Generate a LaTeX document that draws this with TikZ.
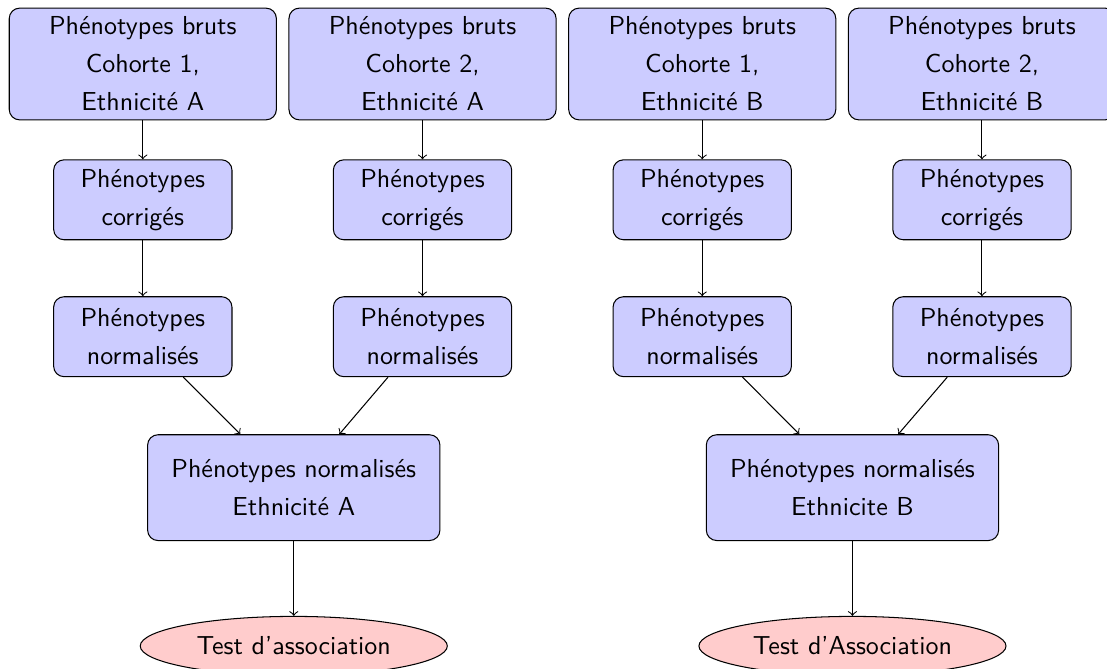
\documentclass[tikz,border=0pt]{standalone}
\usetikzlibrary{shapes.geometric}

\begin{document}
\begin{tikzpicture}[
    % Define styles
    box/.style={rectangle, draw=black, fill=blue!20, rounded corners=4pt, align=center, font={\sffamily\fontsize{10}{14.6}\selectfont}},
    raw/.style={box, minimum width=3.61cm, minimum height=1.51cm},
    stage/.style={box, minimum width=2.41cm, minimum height=1.08cm},
    merged/.style={box, minimum width=3.95cm, minimum height=1.43cm},
    assoc/.style={ellipse, draw=black, fill=red!20, minimum width=4.15cm, minimum height=0.8cm, font=\sffamily},
    arrow/.style={->},
    ]

    \useasboundingbox (0,0) rectangle (14.96,-9.04);

    % Raw phenotypes
    \node[raw] (brutA1) at (1.93, -0.865) {Phénotypes bruts\\Cohorte 1,\\Ethnicité A};
    \node[raw] (brutA2) at (5.71, -0.865) {Phénotypes bruts\\Cohorte 2,\\Ethnicité A};
    \node[raw] (brutB1) at (9.49, -0.865) {Phénotypes bruts\\Cohorte 1,\\Ethnicité B};
    \node[raw] (brutB2) at (13.27, -0.865) {Phénotypes bruts\\Cohorte 2,\\Ethnicité B};

    % Corrected phenotypes
    \node[stage] (corrA1) at (1.93, -2.70) {Phénotypes\\corrigés};
    \node[stage] (corrA2) at (5.71, -2.70) {Phénotypes\\corrigés};
    \node[stage] (corrB1) at (9.49, -2.70) {Phénotypes\\corrigés};
    \node[stage] (corrB2) at (13.27, -2.70) {Phénotypes\\corrigés};

    % Normalised phenotypes
    \node[stage] (normA1) at (1.93, -4.55) {Phénotypes\\normalisés};
    \node[stage] (normA2) at (5.71, -4.55) {Phénotypes\\normalisés};
    \node[stage] (normB1) at (9.49, -4.55) {Phénotypes\\normalisés};
    \node[stage] (normB2) at (13.27, -4.55) {Phénotypes\\normalisés};

    % Merged by ethnicity
    \node[merged] (ethA) at (3.97, -6.59) {Phénotypes normalisés\\Ethnicité A};
    \node[merged] (ethB) at (11.52, -6.59) {Phénotypes normalisés\\Ethnicite B};

    % Association tests
    \node[assoc] (testA) at (3.97, -8.73) {Test d'association};
    \node[assoc] (testB) at (11.52, -8.73) {Test d'Association};

    % Arrows
    \foreach \c in {A1, A2, B1, B2} {
        \draw[arrow] (brut\c) -- (corr\c);
        \draw[arrow] (corr\c) -- (norm\c);
    }
    \draw[arrow] (normA1) -- (ethA);
    \draw[arrow] (normA2) -- (ethA);
    \draw[arrow] (normB1) -- (ethB);
    \draw[arrow] (normB2) -- (ethB);
    \draw[arrow] (ethA) -- (testA);
    \draw[arrow] (ethB) -- (testB);

\end{tikzpicture}
\end{document}
